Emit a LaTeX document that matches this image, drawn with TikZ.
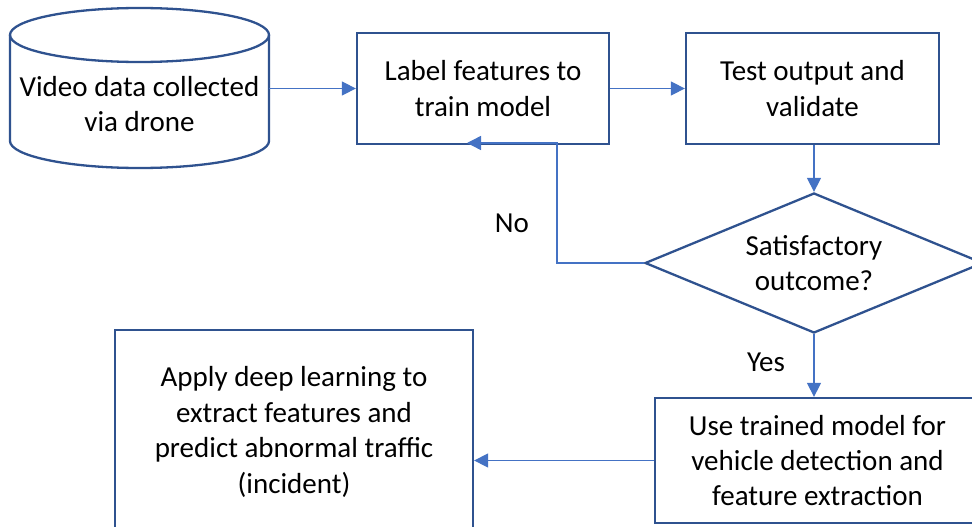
\documentclass[tikz,border=0pt]{standalone}
\usepackage{fontspec}
\setmainfont{Carlito}
\usetikzlibrary{arrows.meta,shapes.geometric}
\definecolor{bordc}{HTML}{2F528F}
\definecolor{connc}{HTML}{4472C4}
\tikzset{
  boxst/.style={draw=bordc, line width=2.3pt, rectangle, inner sep=0pt, align=center, font=\fontsize{29}{35.4}\selectfont},
  txt/.style={inner sep=0pt, align=center, font=\fontsize{29}{35.4}\selectfont},
  conn/.style={draw=connc, line width=1.4pt, -{Triangle[length=14pt,width=14pt]}},
}
\begin{document}
\begin{tikzpicture}[x=1pt,y=-1pt]
\useasboundingbox (0,0) rectangle (972,527);
\clip (0,0) rectangle (972,527);
% cylinder
\draw[bordc, line width=2.3pt, fill=white] (10,35) -- (10,141) arc[start angle=180, end angle=360, x radius=129.5pt, y radius=27pt] -- (269,35);
\draw[bordc, line width=2.3pt] (139.5,35) ellipse [x radius=129.5pt, y radius=27pt];
\node[txt, minimum width=259pt, minimum height=80pt] (cyl) at (139.5,104) {Video data collected\\via drone};
% boxes
\node[boxst, minimum width=252pt, minimum height=111pt] (label) at (483,88.5) {Label features to\\train model};
\node[boxst, minimum width=253pt, minimum height=111pt] (test) at (812.5,88.5) {Test output and\\validate};
\node[draw=bordc, line width=2.3pt, diamond, inner sep=0pt, aspect=2.41, minimum width=338pt, minimum height=140pt, align=center, font=\fontsize{29}{35.4}\selectfont] (dia) at (814,263) {\raisebox{-4pt}{\parbox{200pt}{\centering Satisfactory\\outcome?}}};
\node[boxst, minimum width=325pt, minimum height=125pt] (use) at (817.5,460.5) {Use trained model for\\vehicle detection and\\feature extraction};
\node[boxst, minimum width=358pt, minimum height=204pt] (apply) at (294,432) {Apply deep learning to\\extract features and\\predict abnormal traffic\\(incident)};
% connectors
\draw[conn] (cyl.east |- label.west) -- (label.west);
\draw[conn] (label.east) -- (test.west);
\draw[conn] (test.south -| dia.north) -- (dia.north);
\coordinate (noturn) at (557,143);
\coordinate (noend) at (467,143);
\draw[conn] (dia.west) -| (noturn) -- (noend);
\draw[conn] (dia.south) -- (dia.south |- use.north);
\draw[conn] (use.west) -- (use.west -| apply.east);
\node[txt] (no) at (512,223) {No};
\node[txt] (yes) at (766,362) {Yes};
\end{tikzpicture}
\end{document}
